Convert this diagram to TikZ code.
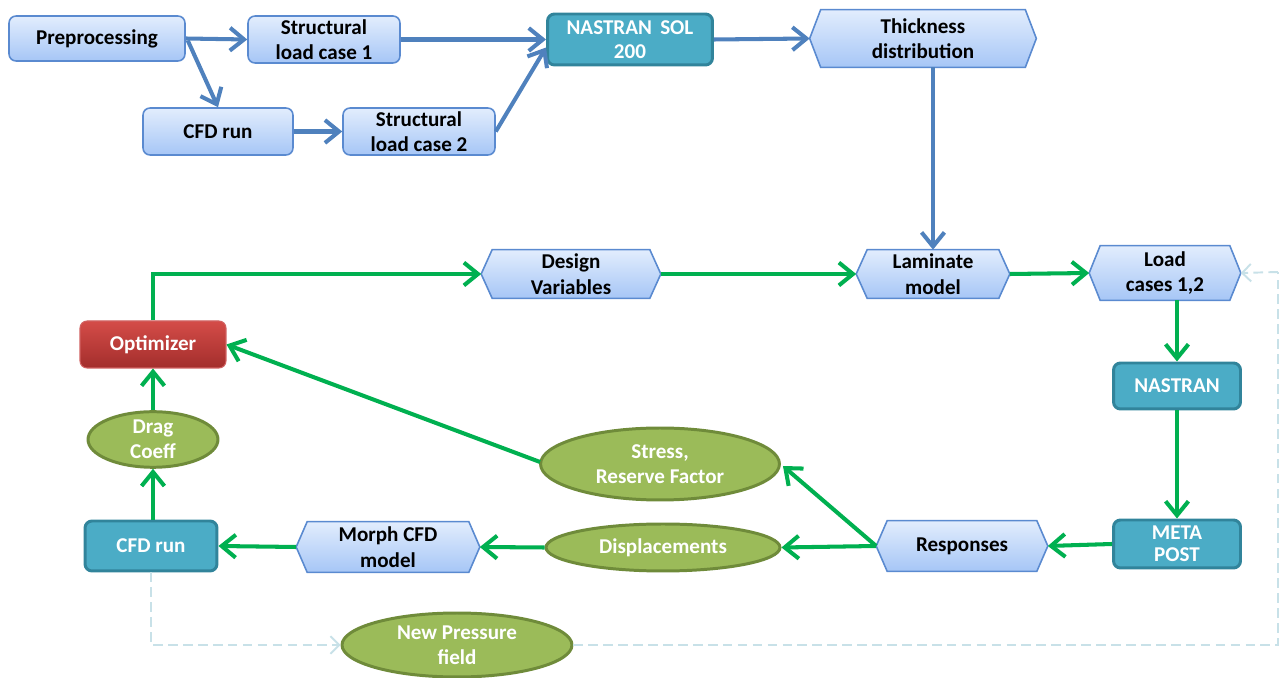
\documentclass[tikz,border=0pt]{standalone}
\usepackage{fontspec}
\setmainfont{Carlito}
\usetikzlibrary{shapes.geometric,arrows.meta,calc}
\pgfdeclarelayer{background}
\pgfsetlayers{background,main}
\definecolor{lbtop}{HTML}{E2EDFD}
\definecolor{lbbot}{HTML}{A6C6F6}
\definecolor{lbborder}{HTML}{5A8AD0}
\definecolor{tfill}{HTML}{4BACC6}
\definecolor{tborder}{HTML}{31849B}
\definecolor{rtop}{HTML}{D44C48}
\definecolor{rbot}{HTML}{A32E2C}
\definecolor{rborder}{HTML}{D06060}
\definecolor{efill}{HTML}{9BBB59}
\definecolor{eborder}{HTML}{6F8B3A}
\definecolor{bline}{HTML}{4F81BD}
\definecolor{gline}{HTML}{00B050}
\definecolor{dline}{HTML}{C8E1E8}
\begin{document}
\begin{tikzpicture}[x=0.02cm,y=-0.02cm,
  every node/.style={font=\fontsize{12}{14.5}\selectfont\bfseries, align=center, inner sep=0pt},
  lbox/.style={rectangle, rounded corners=4pt, draw=lbborder, line width=0.9pt, top color=lbtop, bottom color=lbbot},
  tbox/.style={rectangle, rounded corners=4pt, draw=tborder, line width=1.7pt, fill=tfill, text=white},
  rbox/.style={rectangle, rounded corners=4pt, draw=rborder, line width=0.6pt, top color=rtop, bottom color=rbot, text=white},
  hexn/.style={rectangle},
  hexfill/.style={draw=lbborder, line width=0.9pt, top color=lbtop, bottom color=lbbot},
  ell/.style={ellipse, draw=eborder, line width=1.7pt, fill=efill, text=white},
  barrow/.style={draw=bline, line width=2.3pt, -{Straight Barb[length=8pt,width=13pt]}},
  garrow/.style={draw=gline, line width=2.3pt, -{Straight Barb[length=8pt,width=13pt]}},
  darrow/.style={draw=dline, line width=1.1pt, dash pattern=on 5.5pt off 3pt, -{Straight Barb[length=5pt,width=10pt]}},
  dline/.style={draw=dline, line width=1.1pt, dash pattern=on 5.5pt off 3pt},
]
\useasboundingbox (0,0) rectangle (1286,678);

% top row
\node[lbox, minimum width=3.52cm, minimum height=0.90cm] (pre) at (97,38.5) {Preprocessing};
\node[lbox, minimum width=3.04cm, minimum height=0.94cm] (s1) at (324,39.5) {Structural\\load case 1};
\node[lbox, minimum width=3.00cm, minimum height=0.94cm] (cfd1) at (218,131.5) {CFD run};
\node[lbox, minimum width=3.04cm, minimum height=0.94cm] (s2) at (419,131.5) {Structural\\load case 2};
\node[tbox, minimum width=3.30cm, minimum height=1.02cm] (sol) at (630,39.5) {NASTRAN\, SOL\\[-1pt]200};
\node[hexn, minimum width=4.52cm, minimum height=1.14cm] (thick) at (923,38.5) {Thickness\\distribution};

% middle row
\node[hexn, minimum width=3.58cm, minimum height=0.96cm] (dv) at (571,274) {Design\\Variables};
\node[hexn, minimum width=3.06cm, minimum height=0.96cm] (lam) at (933,274) {Laminate\\model};
\node[hexn, minimum width=3.02cm, minimum height=1.08cm] (load) at (1165,273) {Load\\cases 1,2};
\node[rbox, minimum width=2.92cm, minimum height=0.94cm] (opt) at (153,344.5) {Optimizer};
\node[tbox, minimum width=2.54cm, minimum height=0.92cm] (nas) at (1177,386) {NASTRAN};

% lower rows
\node[ell, minimum width=2.60cm, minimum height=1.02cm] (drag) at (153,439.5) {Drag\\Coeff};
\node[ell, minimum width=4.78cm, minimum height=1.44cm] (stress) at (660,464) {Stress,\\Reserve Factor};
\node[tbox, minimum width=2.64cm, minimum height=1.00cm] (cfd2) at (151,546) {CFD run};
\node[hexn, minimum width=3.66cm, minimum height=1.00cm] (morph) at (388,547) {Morph CFD\\model};
\node[ell, minimum width=4.68cm, minimum height=0.94cm] (disp) at (663,547.5) {Displacements};
\node[hexn, minimum width=3.42cm, minimum height=1.00cm] (resp) at (962,546) {Responses};
\node[tbox, minimum width=2.54cm, minimum height=0.96cm] (meta) at (1177,544) {META\\[-2pt]POST};
\node[ell, minimum width=4.60cm, minimum height=1.28cm] (np) at (457,645) {New Pressure\\field};
\coordinate (dr) at (1278,272);

% hexagon backgrounds
\begin{pgfonlayer}{background}
\foreach \n/\t in {thick/11, dv/11, lam/11, load/11, morph/11, resp/11}{
  \path[hexfill] (\n.west) -- ($(\n.north west)+(\t,0)$) -- ($(\n.north east)+(-\t,0)$) -- (\n.east)
     -- ($(\n.south east)+(-\t,0)$) -- ($(\n.south west)+(\t,0)$) -- cycle;
}
\end{pgfonlayer}

% blue connectors
\draw[barrow] (pre.east) -- (s1.west);
\draw[barrow] ($(pre.east)+(2,2)$) -- (cfd1.north);
\draw[barrow] (cfd1.east) -- (s2.west);
\draw[barrow] (s1.east) -- (sol.west);
\draw[barrow] (s2.east) -- ($(sol.west)+(0,8)$);
\draw[barrow] (sol.east) -- (thick.west);
\draw[barrow] (lam.north |- thick.south) -- (lam.north);

% green connectors
\draw[garrow] (opt.north) |- (dv.west);
\draw[garrow] (dv.east) -- (lam.west);
\draw[garrow] (lam.east) -- (load.west);
\draw[garrow] (nas.north |- load.south) -- (nas.north);
\draw[garrow] (nas.south) -- (nas.south |- meta.north);
\draw[garrow] (meta.west) -- (resp.east);
\draw[garrow] (resp.west) -- (disp.east);
\draw[garrow] (resp.west) -- ($(stress.east)+(2,2)$);
\draw[garrow] (disp.west) -- (morph.east);
\draw[garrow] (morph.west) -- (cfd2.east);
\draw[garrow] (cfd2.north -| drag.south) -- (drag.south);
\draw[garrow] (drag.north) -- (opt.south);
\draw[garrow] ($(stress.west)+(1,-2)$) -- (opt.east);

% dashed feedback
\draw[darrow] (cfd2.south) |- (np.west);
\draw[dline] (np.east) -| (dr);
\draw[darrow] (dr) -- (load.east);
\end{tikzpicture}
\end{document}
